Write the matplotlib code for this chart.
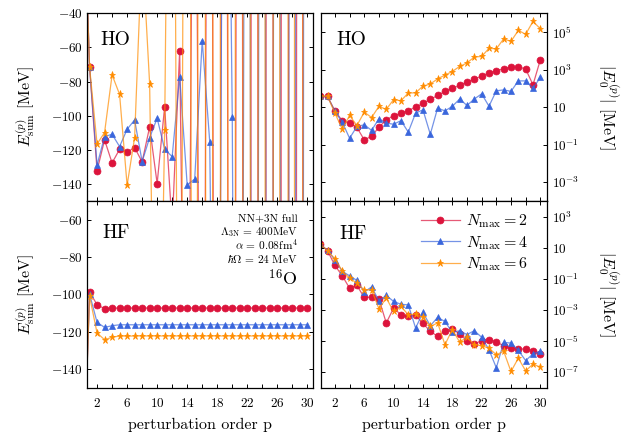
"""
Partial sums E_sum^(p) and perturbative corrections |E_0^(p)| for 16O,
HO and HF basis, Nmax = 2, 4, 6.  Output: out.png
"""

import numpy as np
import matplotlib.pyplot as plt
from matplotlib.ticker import FixedLocator, FixedFormatter, NullLocator

OUT_PNG = "out.png"

ORDERS = list(range(0, 31))
NMAX_LABELS = [r"$N_{\max} = 2$", r"$N_{\max} = 4$", r"$N_{\max} = 6$"]

# E_sum^(p) [MeV], HO basis (values beyond the frame are rough guesses)
HO_SUM_N2 = [60, -71.3, -132.2, -114.2, -127.7, -119.7, -121.4, -118.7, -127.1, -106.6,
             -139.8, -94.7, -165, -61.9, -400, 250, -600, 500, -900, 800,
             -1500, 1400, -2500, 2300, -3500, 3300, -4500, 4000, -4000, 3000, -5000]
HO_SUM_N4 = [60, -71.3, -128.9, -112.3, -110.9, -118.1, -108.0, -102.5, -126.9, -112.9,
             -101.5, -119.7, -124.0, -77.1, -140.6, -137.1, -56.0, -115.2, -500, 300,
             -100.5, -900, 700, -1200, 1000, -1500, 1500, -2500, 2000, -3000, 3000]
HO_SUM_N6 = [60, -71.3, -116.6, -109.9, -76.1, -87.5, -140.8, -112.9, 0, -81.4,
             -370, -108.4, 340, -500, 600, -800, 1000, -1500, 2000, -3000,
             4000, -6000, 8000, -12000, 15000, -25000, 30000, -60000, 80000, -200000, 300000]

# |E_0^(p)| [MeV], HO basis
HO_ABS_N2 = [37, 37, 6.3, 1.9, 1.4, 0.83, 0.18, 0.28, 0.85, 2.1,
             3.5, 4.6, 6.6, 10, 16, 26, 42, 69, 100, 145,
             210, 310, 450, 650, 870, 1100, 1350, 1400, 1070, 155, 3300]
HO_ABS_N4 = [37, 37, 5.9, 1.6, 0.22, 0.93, 1.15, 0.58, 2.4, 1.4,
             1.23, 1.9, 0.47, 4.8, 7.2, 0.36, 8.9, 6.3, 11, 27,
             12.3, 27, 51, 11.2, 74, 83, 69, 250, 250, 102, 380]
HO_ABS_N6 = [37, 37, 4.8, 0.68, 3.6, 1.05, 5.4, 2.8, 11, 7.6,
             25, 22, 56, 58, 132, 170, 320, 510, 790, 1480,
             2240, 4700, 5000, 13500, 12900, 43000, 32000, 123000, 76000, 370000, 150000]

# E_sum^(p) [MeV], HF basis
HF_SUM_N2 = [-220, -98.8, -105.5, -107.7, -107.4, -107.3, -107.3, -107.3, -107.3, -107.3,
             -107.3, -107.3, -107.3, -107.3, -107.3, -107.3, -107.3, -107.3, -107.3, -107.3,
             -107.3, -107.3, -107.3, -107.3, -107.3, -107.3, -107.3, -107.3, -107.3, -107.3, -107.3]
HF_SUM_N4 = [-220, -99.8, -115.0, -117.7, -116.8, -116.3, -116.3, -116.3, -116.3, -116.3,
             -116.3, -116.3, -116.3, -116.3, -116.3, -116.3, -116.3, -116.3, -116.3, -116.3,
             -116.3, -116.3, -116.3, -116.3, -116.3, -116.3, -116.3, -116.3, -116.3, -116.3, -116.3]
HF_SUM_N6 = [-220, -101.0, -120.7, -124.3, -123.0, -122.3, -122.4, -122.3, -122.3, -122.3,
             -122.3, -122.3, -122.3, -122.3, -122.3, -122.3, -122.3, -122.3, -122.3, -122.3,
             -122.3, -122.3, -122.3, -122.3, -122.3, -122.3, -122.3, -122.3, -122.3, -122.3, -122.3]

# |E_0^(p)| [MeV], HF basis
HF_ABS_N2 = [17, 6.3, 0.72, 0.155, 0.025, 0.037, 6.3e-3, 6.6e-3, 5.0e-3, 1.45e-4,
             1.3e-3, 4.9e-4, 3.8e-4, 4.5e-4, 1.35e-4, 4.2e-5, 2.0e-5, 4.6e-5, 6.2e-5, 2.8e-5,
             1.05e-5, 6.5e-6, 1.05e-5, 1.23e-5, 8.7e-6, 5.0e-6, 3.5e-6, 3.2e-6, 3.0e-6, 2.4e-6, 1.55e-6]
HF_ABS_N4 = [17, 6.6, 1.66, 0.30, 0.155, 0.078, 0.014, 0.030, 3.9e-3, 8.5e-3,
             3.5e-3, 2.3e-3, 2.1e-3, 6.8e-5, 6.9e-4, 9.5e-5, 3.3e-4, 1.8e-4, 3.6e-5, 4.6e-5,
             2.6e-5, 4.6e-5, 1.74e-5, 2.8e-6, 1.9e-7, 8.1e-6, 7.4e-6, 2.5e-6, 5.5e-7, 1.5e-6, 2.2e-6]
HF_ABS_N6 = [17, 6.3, 1.9, 0.32, 0.11, 0.052, 0.019, 0.0195, 1.17e-3, 5.8e-3,
             7.9e-4, 1.66e-3, 4.9e-4, 5.4e-4, 3.3e-4, 8.7e-5, 1.45e-4, 5.8e-6, 5.4e-5, 8.7e-6,
             1.74e-5, 5.8e-6, 5.0e-6, 3.5e-6, 1.3e-6, 2.2e-6, 1.1e-7, 7.9e-7, 1.2e-7, 3.3e-7, 2.1e-7]

COLORS = ["#DC143C", "#3A66DC", "#FF8C00"]
MARKERS = ["o", "^", "*"]
MSIZES = [5.0, 4.4, 5.2]

plt.rcParams["font.family"] = "serif"
plt.rcParams["font.serif"] = ["cmr10"]
plt.rcParams["mathtext.fontset"] = "cm"
plt.rcParams["axes.formatter.use_mathtext"] = True
plt.rcParams["axes.unicode_minus"] = True


def draw_series(ax, series, legend=False):
    for vals, c, m, ms, lab in zip(series, COLORS, MARKERS, MSIZES, NMAX_LABELS):
        rgba = plt.matplotlib.colors.to_rgba(c, 0.7)
        ax.plot(ORDERS, vals, color=rgba, lw=0.9, marker=m, ms=ms,
                mfc=c, mec=c, mew=0.5, label=lab if legend else None)


def style_x(ax, xlim, labels):
    ax.set_xlim(*xlim)
    ax.xaxis.set_major_locator(FixedLocator([2, 6, 10, 14, 18, 22, 26, 30]))
    ax.xaxis.set_minor_locator(FixedLocator([4, 8, 12, 16, 20, 24, 28]))
    ax.tick_params(which="both", direction="in", top=True, bottom=True,
                   left=True, right=True, labelsize=9.5, width=0.7)
    ax.tick_params(which="major", length=3)
    ax.tick_params(which="minor", length=3)
    ax.tick_params(axis="x", which="major", pad=6.5)
    if labels:
        ax.set_xlabel("perturbation order p", fontsize=11.5, labelpad=6)
    else:
        ax.tick_params(labelbottom=False)
    for s in ax.spines.values():
        s.set_linewidth(0.9)


def style_lin_y(ax, ylim, ticks):
    ax.set_ylim(*ylim)
    ax.yaxis.set_major_locator(FixedLocator(ticks))
    ax.yaxis.set_major_formatter(FixedFormatter([r"$%d$" % t for t in ticks]))
    ax.yaxis.set_minor_locator(NullLocator())
    ax.set_ylabel(r"$E_{\rm sum}^{(p)}$ [MeV]", fontsize=11.5, labelpad=10)


def style_log_y(ax, ylim, exps):
    ax.set_yscale("log")
    ax.set_ylim(*ylim)
    ticks = [10.0 ** e for e in exps]
    labs = [r"$10$" if e == 1 else r"$10^{%d}$" % e for e in exps]
    ax.yaxis.set_major_locator(FixedLocator(ticks))
    ax.yaxis.set_major_formatter(FixedFormatter(labs))
    ax.yaxis.set_minor_locator(NullLocator())
    ax.tick_params(labelleft=False, labelright=True)
    ax.yaxis.set_label_position("right")
    ax.set_ylabel(r"$|E_0^{(p)}|$ [MeV]", fontsize=11.5, rotation=270, labelpad=30)


def main():
    fig = plt.figure(figsize=(6.28, 4.34), dpi=100)
    axTL = fig.add_axes([0.139, 0.5369, 0.360, 0.4325])
    axTR = fig.add_axes([0.5111, 0.5369, 0.3604, 0.4325])
    axBL = fig.add_axes([0.139, 0.1067, 0.360, 0.4302])
    axBR = fig.add_axes([0.5111, 0.1067, 0.3604, 0.4302])

    draw_series(axTL, [HO_SUM_N2, HO_SUM_N4, HO_SUM_N6])
    draw_series(axTR, [HO_ABS_N2, HO_ABS_N4, HO_ABS_N6])
    draw_series(axBL, [HF_SUM_N2, HF_SUM_N4, HF_SUM_N6])
    draw_series(axBR, [HF_ABS_N2, HF_ABS_N4, HF_ABS_N6], legend=True)

    style_x(axTL, (0.7, 30.8), False)
    style_x(axBL, (0.7, 30.8), True)
    style_x(axTR, (0.1, 30.95), False)
    style_x(axBR, (0.1, 30.95), True)

    style_lin_y(axTL, (-150, -40), [-40, -60, -80, -100, -120, -140])
    style_lin_y(axBL, (-150, -50), [-60, -80, -100, -120, -140])
    style_log_y(axTR, (1e-4, 1e6), [5, 3, 1, -1, -3])
    style_log_y(axBR, (1e-8, 1e4), [3, 1, -1, -3, -5, -7])

    axTL.text(0.059, 0.858, "HO", transform=axTL.transAxes, fontsize=14, va="center")
    axTR.text(0.069, 0.858, "HO", transform=axTR.transAxes, fontsize=14, va="center")
    axBL.text(0.068, 0.829, "HF", transform=axBL.transAxes, fontsize=14, va="center")
    axBR.text(0.080, 0.823, "HF", transform=axBR.transAxes, fontsize=14, va="center")

    params = [
        ("NN+3N full", 0.906),
        (r"$\Lambda_{\rm 3N}\,=\,400{\rm MeV}$", 0.836),
        (r"$\alpha\,=\,0.08{\rm fm}^4$", 0.766),
        (r"$\hbar\Omega\,=\,24\ {\rm MeV}$", 0.689),
    ]
    for txt, yy in params:
        axBL.text(0.932, yy, txt, transform=axBL.transAxes, fontsize=8.2,
                  ha="right", va="center")
    axBL.text(0.932, 0.587, r"$^{16}$O", transform=axBL.transAxes, fontsize=13,
              ha="right", va="center")

    axBR.legend(loc="upper right", frameon=False, fontsize=11.5,
                handlelength=2.4, handletextpad=0.4, labelspacing=0.25,
                borderaxespad=0.3, bbox_to_anchor=(0.965, 1.0))

    fig.savefig(OUT_PNG, dpi=100)
    plt.close(fig)


if __name__ == "__main__":
    main()
